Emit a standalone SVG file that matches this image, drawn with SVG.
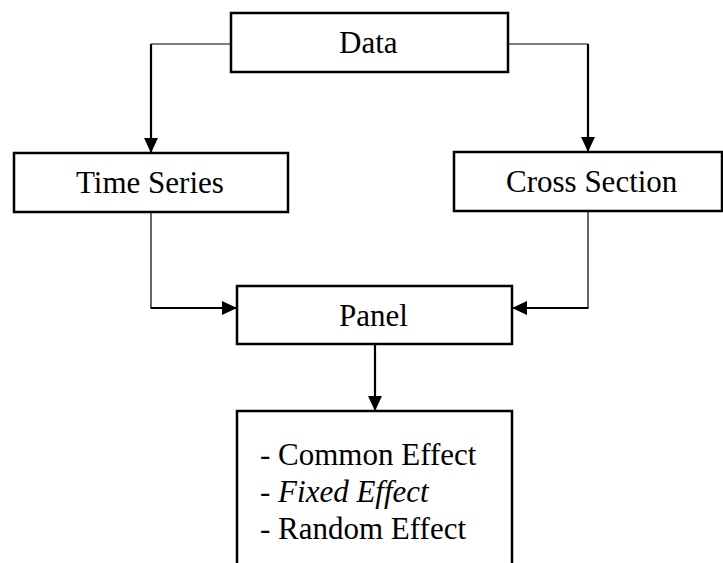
<svg xmlns="http://www.w3.org/2000/svg" width="723" height="563" viewBox="0 0 723 563">
<style>
.box{fill:#fff;stroke:#000;stroke-width:2.5}
.lbl{font-family:"Liberation Serif","Times New Roman",serif;font-size:31px;fill:#000}
.thin{fill:none;stroke:#000;stroke-width:1.2}
.thick{fill:none;stroke:#000;stroke-width:2.2}
</style>
<defs>
<marker id="ah" markerUnits="userSpaceOnUse" markerWidth="15" markerHeight="14" viewBox="0 0 14 13" refX="14" refY="6.5" orient="auto">
<path d="M0,0 L14,6.5 L0,13 Z" fill="#000"/>
</marker>
</defs>
<g id="connectors">
<path class="thin" d="M231,44 H151"/>
<path class="thick" d="M151,44 V153" marker-end="url(#ah)"/>
<path class="thin" d="M508,44 H588"/>
<path class="thick" d="M588,44 V152" marker-end="url(#ah)"/>
<path class="thin" d="M151,212 V308"/>
<path class="thick" d="M150.5,308 H237" marker-end="url(#ah)"/>
<path class="thin" d="M588,211 V308"/>
<path class="thick" d="M588.5,308 H512" marker-end="url(#ah)"/>
<path class="thick" d="M375,344 V411" marker-end="url(#ah)"/>
</g>
<g id="data">
<rect class="box" x="231" y="13" width="277" height="59"/>
<text class="lbl" x="339" y="53">Data</text>
</g>
<g id="time-series">
<rect class="box" x="14" y="153" width="274" height="59"/>
<text class="lbl" x="76" y="193">Time Series</text>
</g>
<g id="cross-section">
<rect class="box" x="454" y="152" width="268" height="59"/>
<text class="lbl" x="506" y="192">Cross Section</text>
</g>
<g id="panel">
<rect class="box" x="237" y="286" width="275" height="58"/>
<text class="lbl" x="339" y="326">Panel</text>
</g>
<g id="methods">
<rect class="box" x="237" y="411" width="275" height="170"/>
<text class="lbl" x="260" y="465">- Common Effect</text>
<text class="lbl" x="260" y="502">- <tspan font-style="italic">Fixed Effect</tspan></text>
<text class="lbl" x="260" y="539">- Random Effect</text>
</g>
</svg>
